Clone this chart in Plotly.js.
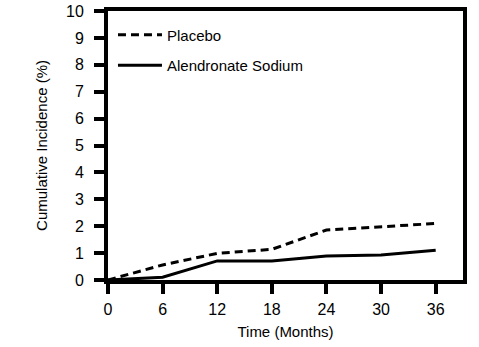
<!DOCTYPE html>
<html><head><meta charset="utf-8">
<script src="https://cdn.plot.ly/plotly-3.0.1.min.js"></script>
<style>body{margin:0;background:#fff}#c{width:479px;height:347px}</style>
</head><body><div id="c"></div>
<script>
const months = [0, 6, 12, 18, 24, 30, 36];
const placebo = [0, 0.56, 0.99, 1.14, 1.86, 1.98, 2.1];
const alendronate = [0, 0.1, 0.71, 0.71, 0.89, 0.93, 1.11];
const seriesNames = ["Placebo", "Alendronate Sodium"];
const xTicks = [0, 6, 12, 18, 24, 30, 36];
const yTicks = [0,1,2,3,4,5,6,7,8,9,10];
const fnt = "'Liberation Sans Narrow', 'Liberation Sans', Arial, sans-serif";
const traces = [
  {x: months, y: placebo, name: seriesNames[0], legendgroup: 'a', mode: 'lines', line: {color: '#000', width: 3, dash: '8px,5px'}},
  {x: months, y: alendronate, name: seriesNames[1], legendgroup: 'b', mode: 'lines', line: {color: '#000', width: 3}}
];
const layout = {
  width: 479, height: 347,
  margin: {l: 108, r: 16, t: 11, b: 67},
  paper_bgcolor: '#fff', plot_bgcolor: '#fff',
  font: {family: fnt, size: 15, color: '#000'},
  showlegend: true,
  legend: {x: 0.014, y: 0.972, xanchor: 'left', yanchor: 'top', bgcolor: 'rgba(0,0,0,0)', font: {size: 15, family: fnt},
    traceorder: 'grouped', tracegroupgap: 8, itemwidth: 44},
  xaxis: {range: [0, 39], tickvals: xTicks, ticks: 'outside', ticklen: 10, tickwidth: 4, tickcolor: '#000',
    showline: true, linewidth: 4, linecolor: '#000', mirror: true, showgrid: false, zeroline: false, ticklabelstandoff: 2,
    tickfont: {size: 16, family: fnt}, title: {text: 'Time (Months)', font: {size: 15, family: fnt}, standoff: 10}},
  yaxis: {range: [0, 10], tickvals: yTicks, ticks: 'outside', ticklen: 10, tickwidth: 4, tickcolor: '#000',
    showline: true, linewidth: 4, linecolor: '#000', mirror: true, showgrid: false, zeroline: false, ticklabelstandoff: 7,
    tickfont: {size: 16, family: fnt}, title: {text: 'Cumulative Incidence (%)', font: {size: 15, family: fnt}, standoff: 16}}
};
Plotly.newPlot('c', traces, layout, {staticPlot: true});
</script></body></html>
